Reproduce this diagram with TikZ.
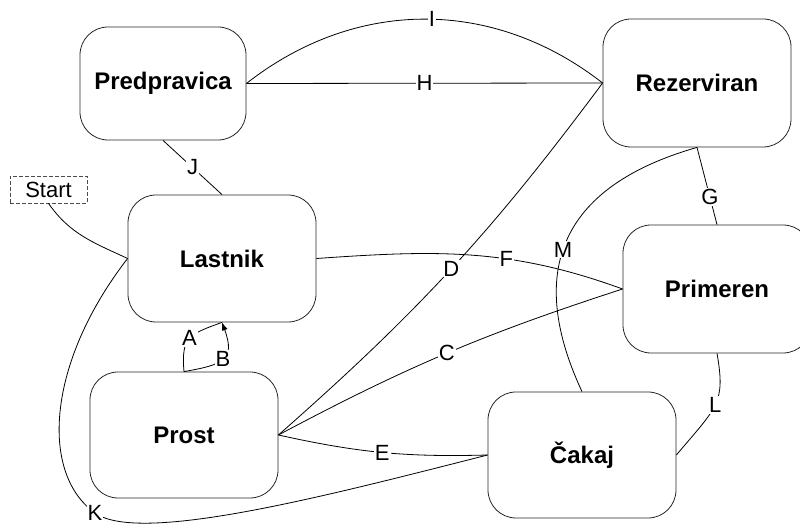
\documentclass[tikz,border=0pt]{standalone}
\usepackage{fontspec}
\setmainfont{Liberation Sans}
\usetikzlibrary{arrows.meta}
\begin{document}
\begin{tikzpicture}[x=1pt,y=1pt,
  statebox/.style={draw=black!85, line width=0.8pt, rounded corners=28pt,
    minimum width=188pt, minimum height=127pt, inner sep=0pt,
    font=\fontsize{24}{28}\selectfont\bfseries},
  startbox/.style={draw=black!70, dash pattern=on 4pt off 2pt, line width=0.8pt,
    minimum width=77pt, minimum height=27pt, inner sep=0pt,
    font=\fontsize{22}{26}\selectfont},
  conn/.style={draw=black, line width=0.8pt},
  lbl/.style={fill=white, inner sep=1pt, font=\fontsize{22}{26}\selectfont}
]
\clip (0,0) rectangle (800,527);

% states
\node[statebox, minimum width=166pt, minimum height=113pt] (pred) at (163,443.5) {Predpravica};
\node[statebox, minimum height=128pt] (rez) at (697,444) {Rezerviran};
\node[statebox] (lastnik) at (222,268.5) {Lastnik};
\node[statebox, minimum height=128pt] (primeren) at (717,238) {Primeren};
\node[statebox, minimum height=126pt] (prost) at (184,92) {Prost};
\node[statebox, minimum height=126pt] (cakaj) at (582,72) {Čakaj};
\node[startbox] (start) at (48.5,337.5) {Start};

\coordinate (kbend) at (95,14);

% transitions
\draw[conn] (start.south) to[out=-55, in=155] (lastnik.west);
\draw[conn] (pred.east) -- node[lbl]{H} (rez.west);
\draw[conn] (pred.east) to[bend left=38] node[lbl, pos=0.52]{I} (rez.west);
\draw[conn] (pred.south) -- node[lbl]{J} (lastnik.north);
\draw[conn] (prost.north) to[out=95, in=200, out distance=35pt, in distance=35pt]
  node[lbl]{A} (lastnik.south);
\draw[conn, -{Latex[length=8pt,width=6pt]}] (prost.north)
  to[out=10, in=-70, out distance=40pt, in distance=40pt] node[lbl]{B} (lastnik.south);
\draw[conn] (prost.east) to[bend left=5] node[lbl]{C} (primeren.west);
\draw[conn] (prost.east) to[bend right=6] node[lbl]{D} (rez.west);
\draw[conn] (prost.east) to[bend right=7] node[lbl]{E} (cakaj.west);
\draw[conn] (lastnik.east) to[out=4, in=160] node[lbl, pos=0.62]{F} (primeren.west);
\draw[conn] (rez.south) -- node[lbl, pos=0.64]{G} (primeren.north);
\draw[conn] (rez.south) to[out=196, in=115, out distance=165pt, in distance=108pt]
  node[lbl]{M} (cakaj.north);
\draw[conn] (primeren.south) to[out=-80, in=50, out distance=51pt, in distance=63pt]
  node[lbl]{L} (cakaj.east);
\draw[conn] (lastnik.west) .. controls (47,164.5) and (39.4,53.8) .. (kbend)
  .. controls (140,-18) and (330,32) .. (cakaj.west);
\node[lbl] (klabel) at (kbend) {K};
\end{tikzpicture}
\end{document}
